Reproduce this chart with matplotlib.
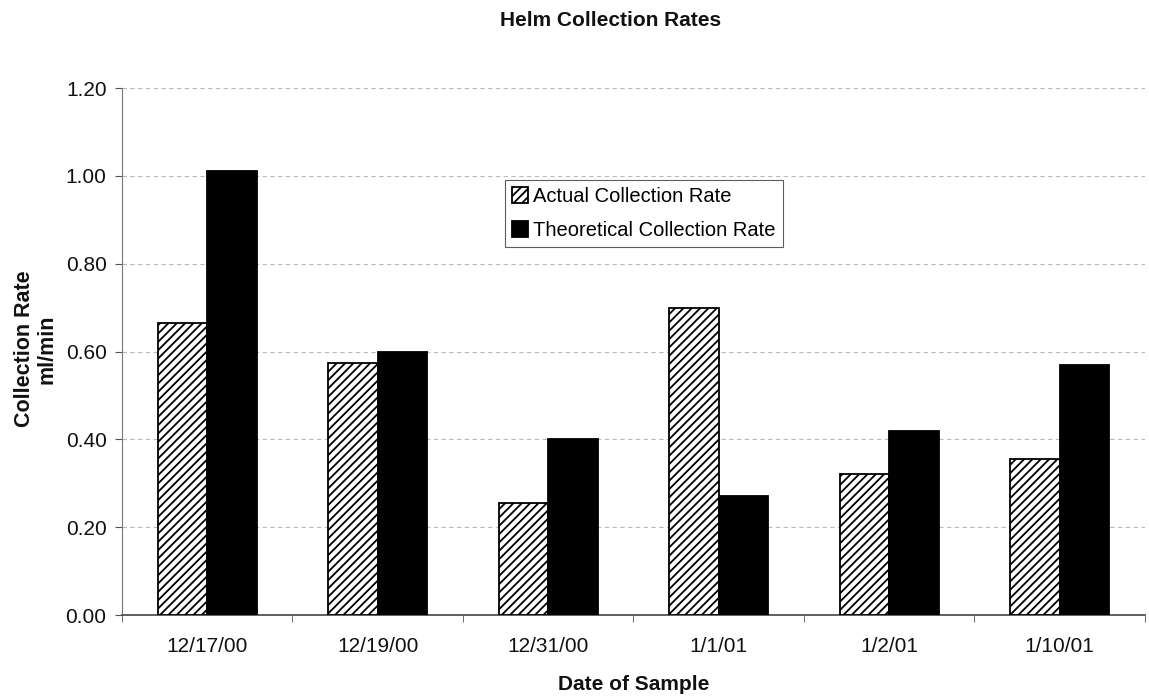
import matplotlib
matplotlib.use("Agg")
import matplotlib.pyplot as plt
import numpy as np

plt.rcParams['font.family'] = ['Liberation Sans', 'DejaVu Sans']
plt.rcParams['hatch.linewidth'] = 1.3

dates = ["12/17/00", "12/19/00", "12/31/00", "1/1/01", "1/2/01", "1/10/01"]
actual = [0.665, 0.575, 0.255, 0.70, 0.32, 0.355]
theoretical = [1.01, 0.60, 0.40, 0.27, 0.42, 0.57]
yticks = [0.0, 0.2, 0.4, 0.6, 0.8, 1.0, 1.2]

fig = plt.figure(figsize=(11.49, 6.97), dpi=100)
ax = fig.add_axes([0.106, 0.1176, 0.8905, 0.7561])

x = np.arange(len(dates))
w = 0.29
ax.bar(x - w/2, actual, w, facecolor='white', edgecolor='black', hatch='////',
       linewidth=1.3, label='Actual Collection Rate', zorder=3)
ax.bar(x + w/2, theoretical, w, facecolor='black', edgecolor='black',
       linewidth=1.3, label='Theoretical Collection Rate', zorder=3)

ax.set_xlim(-0.5, len(dates) - 0.5)
ax.set_ylim(0, 1.2)
ax.set_yticks(yticks)
ax.set_yticklabels([f"{v:.2f}" for v in yticks], fontsize=15, color='#111111')
ax.set_xticks(x)
ax.set_xticklabels(dates, fontsize=15, color='#111111')
ax.tick_params(axis='x', which='major', length=0, pad=16)
ax.set_xticks(np.arange(-0.5, len(dates)), minor=True)
ax.tick_params(axis='x', which='minor', length=5, direction='out', color='#555555')
ax.tick_params(axis='y', length=5, direction='out', color='#555555', pad=6)

ax.grid(axis='y', linestyle=(0, (4, 3)), color='#bbbbbb', linewidth=0.8, zorder=0)
for s in ['top', 'right']:
    ax.spines[s].set_visible(False)
ax.spines['left'].set_color('#777777')
ax.spines['bottom'].set_color('#444444')
ax.spines['bottom'].set_linewidth(1.2)

fig.text(36/1149, 1 - 349/697, "Collection Rate\nml/min", rotation=90,
         ha='center', va='center', multialignment='center', fontsize=15.5,
         fontweight='bold', linespacing=1.1, color='#111111')
fig.text(0.106 + 0.8905/2, 1 - 685/697, "Date of Sample", ha='center', va='center',
         fontsize=15, fontweight='bold', color='#111111')
fig.text(611/1149, 1 - 20/697, "Helm Collection Rates", ha='center', va='center',
         fontsize=15, fontweight='bold', color='#111111')

leg = ax.legend(loc='upper left', bbox_to_anchor=(0.3744, 0.8254), fontsize=14.5,
                frameon=True, fancybox=False, edgecolor='#333333',
                handlelength=0.8, handleheight=0.8, handletextpad=0.25,
                borderpad=0.35, labelspacing=0.75, borderaxespad=0)
leg.get_frame().set_linewidth(0.8)

fig.savefig("out.png", dpi=100)
